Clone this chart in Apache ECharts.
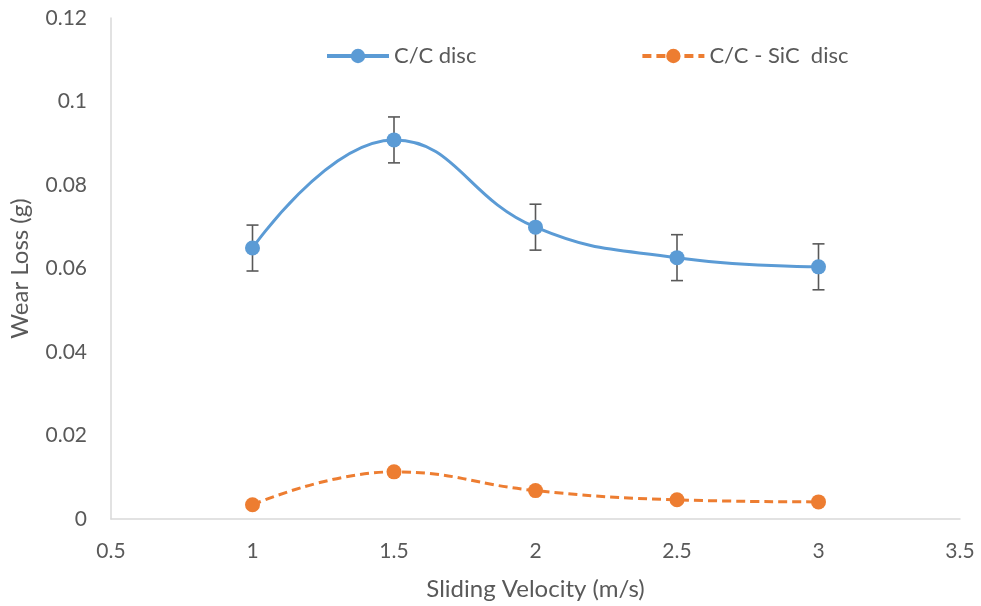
<!DOCTYPE html>
<html>
<head>
<meta charset="utf-8">
<script src="https://cdn.jsdelivr.net/npm/echarts@6/dist/echarts.min.js"></script>
<style>html,body{margin:0;padding:0;background:#fff;}#c{width:981px;height:606px;}</style>
</head>
<body>
<div id="c"></div>
<script>
const velocities = [1, 1.5, 2, 2.5, 3];
const ccDisc = [0.0649, 0.0908, 0.0699, 0.0626, 0.0604];
const ccSicDisc = [0.0034, 0.0113, 0.0068, 0.0046, 0.0041];
const ccDiscErr = [0.0055, 0.0055, 0.0055, 0.0055, 0.0055];
const ccSicErr = [0.0005, 0.0005, 0.0005, 0.0005, 0.0005];
const yTicks = ['0', '0.02', '0.04', '0.06', '0.08', '0.1', '0.12'];
const xTicks = ['0.5', '1', '1.5', '2', '2.5', '3', '3.5'];

const FONT = 'Lato, "Open Sans", sans-serif';
const txt = '#595959';

function errData(vals, errs) {
  return velocities.map((x, i) => [x, vals[i] - errs[i], vals[i] + errs[i]]);
}
function errRender(params, api) {
  const x = api.value(0);
  const lo = api.coord([x, api.value(1)]);
  const hi = api.coord([x, api.value(2)]);
  const w = 6;
  const style = { stroke: '#595959', lineWidth: 1.6 };
  return {
    type: 'group',
    children: [
      { type: 'line', shape: { x1: lo[0], y1: lo[1], x2: hi[0], y2: hi[1] }, style },
      { type: 'line', shape: { x1: lo[0] - w, y1: lo[1], x2: lo[0] + w, y2: lo[1] }, style },
      { type: 'line', shape: { x1: hi[0] - w, y1: hi[1], x2: hi[0] + w, y2: hi[1] }, style }
    ]
  };
}

const chart = echarts.init(document.getElementById('c'), null, { renderer: 'canvas' });
chart.setOption({
  animation: false,
  backgroundColor: '#fff',
  grid: { left: 111, right: 21, top: 18, bottom: 87 },
  legend: {
    top: 40, left: 320, itemWidth: 62, itemHeight: 18, itemGap: 164,
    textStyle: { color: txt, fontSize: 22, fontFamily: FONT },
    lineStyle: { width: 4 },
    data: ['C/C disc', 'C/C - SiC  disc']
  },
  xAxis: {
    type: 'value', min: 0.5, max: 3.5, interval: 0.5,
    name: 'Sliding Velocity (m/s)', nameLocation: 'middle', nameGap: 58,
    nameTextStyle: { color: txt, fontSize: 24, fontFamily: FONT },
    axisLine: { show: true, lineStyle: { color: '#d9d9d9', width: 1.5 } },
    axisTick: { show: false },
    splitLine: { show: false },
    axisLabel: { color: txt, fontSize: 21, fontFamily: FONT, margin: 22,
      formatter: (v) => xTicks[Math.round((v - 0.5) / 0.5)] }
  },
  yAxis: {
    type: 'value', min: 0, max: 0.12, interval: 0.02,
    name: 'Wear Loss (g)', nameLocation: 'middle', nameGap: 79,
    nameTextStyle: { color: txt, fontSize: 24, fontFamily: FONT },
    axisLine: { show: true, lineStyle: { color: '#d9d9d9', width: 1.5 } },
    axisTick: { show: false },
    splitLine: { show: false },
    axisLabel: { color: txt, fontSize: 21, fontFamily: FONT, margin: 24,
      formatter: (v) => yTicks[Math.round(v / 0.02)] }
  },
  series: [
    {
      type: 'custom', name: 'errCC', renderItem: errRender, z: 1,
      data: errData(ccDisc, ccDiscErr), silent: true
    },
    {
      type: 'custom', name: 'errSiC', renderItem: errRender, z: 1,
      data: errData(ccSicDisc, ccSicErr), silent: true
    },
    {
      name: 'C/C disc', type: 'line', smooth: 0.45, z: 3,
      data: velocities.map((x, i) => [x, ccDisc[i]]),
      symbol: 'circle', symbolSize: 15,
      itemStyle: { color: '#5B9BD5' },
      lineStyle: { color: '#5B9BD5', width: 3 }
    },
    {
      name: 'C/C - SiC  disc', type: 'line', smooth: 0.45, z: 3,
      data: velocities.map((x, i) => [x, ccSicDisc[i]]),
      symbol: 'circle', symbolSize: 15,
      itemStyle: { color: '#ED7D31' },
      lineStyle: { color: '#ED7D31', width: 3, type: [9, 5] }
    }
  ]
});
</script>
</body>
</html>
